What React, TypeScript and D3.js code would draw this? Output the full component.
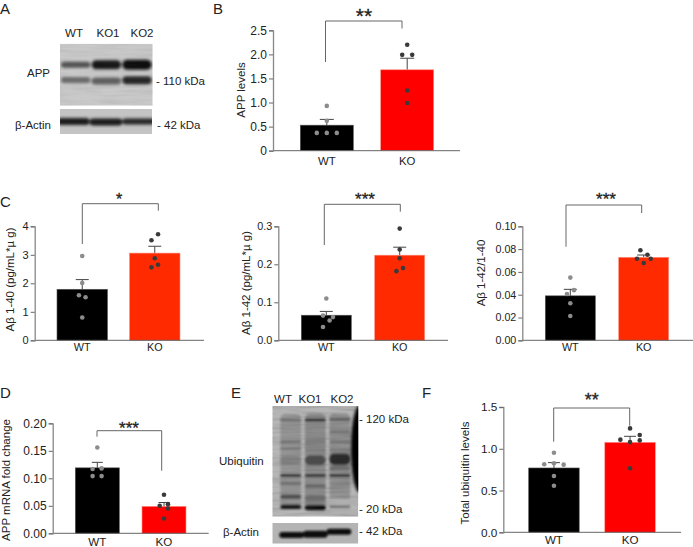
import React, { useEffect, useRef } from 'react';
import * as d3 from 'd3';

const FONT = '"Liberation Sans", Arial, sans-serif';
const groups = ['WT', 'KO'];

// panel B
const appMeans = [0.53, 1.68];
const appErrors = [0.65, 1.92];
const appWt = [0.93, 0.62, 0.37, 0.37, 0.37];
const appKo = [2.2, 1.99, 1.99, 1.25, 0.99];
const appWtJitter = [0, 0, -10, 0, 10];
const appKoJitter = [0, -5, 5, 0, 0];

// panel C
const ab40Means = [1.79, 3.06];
const ab40Errors = [2.13, 3.3];
const ab40Wt = [2.96, 2.01, 1.58, 1.51, 0.8];
const ab40Ko = [3.72, 3.51, 2.88, 2.65, 2.56];
const ab40WtJitter = [0, 0, -3.3, 3.3, 0];
const ab40KoJitter = [3.3, -3.3, 0, 3.3, -3.3];

const ab42Means = [0.066, 0.224];
const ab42Errors = [0.076, 0.245];
const ab42Wt = [0.11, 0.065, 0.061, 0.052, 0.035];
const ab42Ko = [0.294, 0.239, 0.216, 0.19, 0.182];
const ab42WtJitter = [0, -3.3, 6.7, 3.3, -3.3];
const ab42KoJitter = [0, 0, 0, 3.3, -3.3];

const ratioMeans = [0.039, 0.0728];
const ratioErrors = [0.0447, 0.0748];
const ratioWt = [0.055, 0.044, 0.0406, 0.0325, 0.0213];
const ratioKo = [0.079, 0.075, 0.0716, 0.0716, 0.0678];
const ratioWtJitter = [0, 3.7, -3.3, 0, 0];
const ratioKoJitter = [-3.3, 3.7, -6.7, 7, 0];

// panel D
const mrnaMeans = [0.119, 0.049];
const mrnaErrors = [0.129, 0.056];
const mrnaWt = [0.156, 0.118, 0.117, 0.104, 0.104];
const mrnaKo = [0.07, 0.053, 0.05, 0.045, 0.027];
const mrnaWtJitter = [0, 4.3, -4.7, -4.7, 4.3];
const mrnaKoJitter = [0, 4, -4.3, 4, 0];

// panel F
const ubqMeans = [0.77, 1.077];
const ubqErrors = [0.834, 1.149];
const ubqWt = [0.953, 0.826, 0.814, 0.81, 0.674, 0.558];
const ubqKo = [1.244, 1.165, 1.109, 1.1, 1.08, 0.766];
const ubqWtJitter = [0, 0, -9.7, 9.7, 0, 0];
const ubqKoJitter = [0, 9.7, -9.7, 9.7, 0, 0];

// blot bands: [lane, relative position down the gel, darkness, thickness px]
const appBands = [
  [0, 0.34, 0.62, 6], [1, 0.34, 0.92, 9], [2, 0.34, 1, 10],
  [0, 0.585, 0.5, 6], [1, 0.6, 0.55, 7], [2, 0.59, 0.85, 8],
];
const actinBands = [[0, 0.5, 0.9, 7], [1, 0.52, 0.9, 7], [2, 0.5, 0.85, 6]];
const ubqBands = [
  // lane smears first, the sharper bands go on top of them
  [0, 0.5, 0.2, 95], [1, 0.5, 0.25, 95], [2, 0.45, 0.22, 85],
  [0, 0.127, 0.42, 2.5], [0, 0.322, 0.42, 2.5], [0, 0.383, 0.36, 2.5], [0, 0.49, 0.3, 8], [0, 0.627, 0.95, 2.5], [0, 0.699, 0.42, 3], [0, 0.82, 0.6, 4.5], [0, 0.91, 0.95, 4.5],
  [1, 0.127, 0.98, 2.5], [1, 0.322, 0.38, 2.5], [1, 0.398, 0.35, 2.5], [1, 0.49, 0.62, 10], [1, 0.627, 0.9, 2.5], [1, 0.723, 0.5, 3], [1, 0.834, 0.42, 6], [1, 0.916, 1, 5.5],
  [2, 0.12, 0.55, 2.5], [2, 0.232, 0.42, 2.5], [2, 0.322, 0.42, 2.5], [2, 0.398, 0.36, 2.5], [2, 0.48, 0.8, 12], [2, 0.563, 0.45, 4], [2, 0.627, 0.95, 2.5], [2, 0.705, 0.28, 3], [2, 0.82, 0.2, 4], [2, 0.91, 0.42, 2.5],
];
const ubqActinBands = [[0, 0.58, 1, 6], [1, 0.54, 1, 7], [2, 0.42, 1, 6]];

const laneLabels = ['WT', 'KO1', 'KO2'];

const ticksB = [0, 0.5, 1, 1.5, 2, 2.5];
const ticksC1 = [0, 1, 2, 3, 4];
const ticksC2 = [0, 0.1, 0.2, 0.3];
const ticksC3 = [0, 0.02, 0.04, 0.06, 0.08, 0.1];
const ticksD = [0, 0.05, 0.1, 0.15, 0.2];
const ticksF = [0, 0.5, 1, 1.5];

const fmtB = (d: number) => (d === 0 ? '0' : d3.format('.1f')(d));

const charts: any[] = [
  {
    means: appMeans, errors: appErrors, wt: appWt, ko: appKo, wtJ: appWtJitter, koJ: appKoJitter,
    ticks: ticksB, fmt: fmtB, label: 'APP levels', stars: '**', red: '#ff0000',
    axisX: 273, axisEnd: 460, y0: 150.7, y1: 30.3, bars: [300.3, 433.7], barW: 53, capW: 14,
    tickFs: 12, xFs: 11.4, xY: 165, labelX: 242, labelY: 90,
    bracket: [325.5, 402, 21, 62, 28.5], starX: 364, starY: 23, starFs: 21,
  },
  {
    means: ab40Means, errors: ab40Errors, wt: ab40Wt, ko: ab40Ko, wtJ: ab40WtJitter, koJ: ab40KoJitter,
    ticks: ticksC1, fmt: d3.format('d'), label: 'Aβ 1-40 (pg/mL*µ g)', stars: '*', red: '#ff2a00',
    axisX: 34.7, axisEnd: 204, y0: 340.3, y1: 226.3, bars: [57, 180], barW: 50.5, capW: 13,
    tickFs: 11, xFs: 10.8, xY: 351, labelX: 11, labelY: 279.5,
    bracket: [82.3, 158.3, 203.7, 244, 210.7], starX: 119, starY: 205, starFs: 16,
  },
  {
    means: ab42Means, errors: ab42Errors, wt: ab42Wt, ko: ab42Ko, wtJ: ab42WtJitter, koJ: ab42KoJitter,
    ticks: ticksC2, fmt: d3.format('.1f'), label: 'Aβ 1-42 (pg/mL*µ g)', stars: '***', red: '#ff2a00',
    axisX: 278.3, axisEnd: 448, y0: 340.3, y1: 226.3, bars: [301.3, 424.7], barW: 50, capW: 13,
    tickFs: 10.8, xFs: 10.8, xY: 351, labelX: 247, labelY: 283,
    bracket: [324.3, 400.3, 204.3, 245, 211.7], starX: 365, starY: 205, starFs: 17,
  },
  {
    means: ratioMeans, errors: ratioErrors, wt: ratioWt, ko: ratioKo, wtJ: ratioWtJitter, koJ: ratioKoJitter,
    ticks: ticksC3, fmt: d3.format('.2f'), label: 'Aβ 1-42/1-40', stars: '***', red: '#ff2a00',
    axisX: 522.3, axisEnd: 693, y0: 340.3, y1: 226.3, bars: [545.3, 668.7], barW: 50, capW: 13,
    tickFs: 10.7, xFs: 10.8, xY: 351, labelX: 482, labelY: 273,
    bracket: [566, 641.7, 205, 246.7, 213], starX: 606, starY: 205, starFs: 17,
  },
  {
    means: mrnaMeans, errors: mrnaErrors, wt: mrnaWt, ko: mrnaKo, wtJ: mrnaWtJitter, koJ: mrnaKoJitter,
    ticks: ticksD, fmt: d3.format('.2f'), label: 'APP mRNA fold change', stars: '***', red: '#ff0000',
    axisX: 52.7, axisEnd: 208.7, y0: 533.3, y1: 423.3, bars: [75.3, 186], barW: 44, capW: 11,
    tickFs: 12, xFs: 11.6, xY: 546, labelX: 7, labelY: 480,
    bracket: [97, 161.7, 430.7, 436.7, 470.7], starX: 129, starY: 434, starFs: 17,
  },
  {
    means: ubqMeans, errors: ubqErrors, wt: ubqWt, ko: ubqKo, wtJ: ubqWtJitter, koJ: ubqKoJitter,
    ticks: ticksF, fmt: d3.format('.1f'), label: 'Total ubiquitin levels', stars: '**', red: '#ff0000',
    axisX: 503.3, axisEnd: 681, y0: 532.3, y1: 407, bars: [528.7, 655.3], barW: 50.5, capW: 12,
    tickFs: 11.8, xFs: 11.6, xY: 544, labelX: 466, labelY: 473,
    bracket: [553.7, 629.7, 408, 441.7, 425.7], starX: 591.7, starY: 406, starFs: 18,
  },
];

const BarPanel = ({ c }: { c: any }) => {
  const axisRef = useRef<SVGGElement | null>(null);

  const y = d3.scaleLinear().domain([c.ticks[0], c.ticks[c.ticks.length - 1]]).range([c.y0, c.y1]);
  const gap = c.bars[1] - c.bars[0] - 2 * c.barW;
  const x = d3.scaleBand<string>().domain(groups).range(c.bars)
    .paddingInner(gap / (c.barW + gap)).paddingOuter(0);

  useEffect(() => {
    if (!axisRef.current) return;
    const g = d3.select(axisRef.current);
    g.selectAll('*').remove();
    g.call(d3.axisLeft(y).tickValues(c.ticks).tickFormat(c.fmt).tickSize(4).tickPadding(2) as any);
    g.selectAll('.domain').attr('stroke', '#888').attr('stroke-width', 1.3);
    g.selectAll('.tick line').attr('stroke', '#666');
    g.selectAll('text').attr('fill', '#222').style('font-size', `${c.tickFs}px`).style('font-family', FONT);
  }, []);

  const series = [
    { name: 'WT', vals: c.wt, jit: c.wtJ, fill: '#8c8c8c' },
    { name: 'KO', vals: c.ko, jit: c.koJ, fill: '#3a3a3a' },
  ];
  const [bx1, bx2, bTop, bLeft, bRight] = c.bracket;

  return (
    <g>
      {groups.map((g, i) => {
        const cx = x(g)! + x.bandwidth() / 2;
        return (
          <g key={g}>
            <line x1={cx} x2={cx} y1={y(c.means[i])} y2={y(c.errors[i])} stroke="#444" strokeWidth={1} />
            <line x1={cx - c.capW / 2} x2={cx + c.capW / 2} y1={y(c.errors[i])} y2={y(c.errors[i])} stroke="#444" strokeWidth={1} />
            <rect x={x(g)} y={y(c.means[i])} width={x.bandwidth()} height={c.y0 - y(c.means[i])}
              fill={i === 0 ? '#000' : c.red} stroke={i === 0 ? '#555' : '#ff8f80'} strokeWidth={0.6} />
            <text x={cx} y={c.xY} textAnchor="middle" fontSize={c.xFs} fill="#222">{g}</text>
          </g>
        );
      })}
      <line x1={c.axisX} x2={c.axisEnd} y1={c.y0} y2={c.y0} stroke="#666" strokeWidth={1} />
      <g ref={axisRef} transform={`translate(${c.axisX},0)`} />
      {series.map((s) => (
        <g key={s.name}>
          {s.vals.map((v: number, i: number) => (
            <circle key={i} cx={x(s.name)! + x.bandwidth() / 2 + s.jit[i]} cy={y(v)} r={2.3} fill={s.fill} />
          ))}
        </g>
      ))}
      <path d={`M${bx1},${bLeft}V${bTop}H${bx2}V${bRight}`} fill="none" stroke="#666" strokeWidth={1} />
      <text x={c.starX} y={c.starY} textAnchor="middle" fontSize={c.starFs} fill="#222" stroke="#222" strokeWidth={0.3}>{c.stars}</text>
      <text transform={`translate(${c.labelX},${c.labelY}) rotate(-90)`} textAnchor="middle" dominantBaseline="middle"
        fontSize={11.5} fill="#222">{c.label}</text>
    </g>
  );
};

const Blot = ({ x0, x1, y0, y1, bands, bg, laneInset = 0, bandInner = 0.1, clip, blur = 'blotBlur', noise = 0 }: any) => {
  const lane = d3.scaleBand<number>().domain([0, 1, 2]).range([x0 + laneInset, x1 - laneInset]).paddingInner(bandInner);
  const pos = d3.scaleLinear().domain([0, 1]).range([y0, y1]);
  const ink = d3.scaleLinear<string>().domain([0, 1]).range([bg, '#0a0a0a']);
  return (
    <g clipPath={`url(#${clip})`}>
      <rect x={x0} y={y0} width={x1 - x0} height={y1 - y0} fill={bg} />
      <g filter={`url(#${blur})`}>
        {bands.map((b: number[], i: number) => (
          <rect key={i} x={lane(b[0])} y={pos(b[1]) - b[3] / 2} width={lane.bandwidth()} height={b[3]} rx={Math.min(b[3] / 2, 5)} fill={ink(b[2])} />
        ))}
      </g>
      {noise > 0 && <rect x={x0} y={y0} width={x1 - x0} height={y1 - y0} filter="url(#gelNoise)" opacity={noise} />}
    </g>
  );
};

const T = ({ x, y, s, fs = 11.5, anchor = 'start' }: any) => (
  <text x={x} y={y} fontSize={fs} fill="#222" textAnchor={anchor}>{s}</text>
);

const App = () => {
  return (
    <svg width={693} height={547} viewBox="0 0 693 547"
      style={{ position: 'absolute', left: 0, top: 0, display: 'block', background: '#fff', fontFamily: FONT }}>
      <defs>
        <filter id="blotBlur" x="-10%" y="-30%" width="120%" height="160%">
          <feGaussianBlur stdDeviation="0.9" />
        </filter>
        <filter id="blotBlurWide" x="-10%" y="-30%" width="120%" height="160%">
          <feGaussianBlur stdDeviation="1.7" />
        </filter>
        <filter id="smearBlur" x="-50%" y="-20%" width="200%" height="140%">
          <feGaussianBlur stdDeviation="1.5" />
        </filter>
        <filter id="gelNoise" x="0" y="0" width="100%" height="100%">
          <feTurbulence type="fractalNoise" baseFrequency="0.03 0.3" numOctaves="2" seed="4" />
          <feColorMatrix values="0 0 0 0 0.1  0 0 0 0 0.1  0 0 0 0 0.1  1.6 0 0 0 -0.6" />
        </filter>
        <clipPath id="gelA1"><rect x={60} y={43.7} width={92.7} height={62} /></clipPath>
        <clipPath id="gelA2"><rect x={60} y={109} width={92} height={25} /></clipPath>
        <clipPath id="gelE1"><rect x={272.3} y={406} width={86} height={110.7} /></clipPath>
        <clipPath id="gelE2"><rect x={272.3} y={523} width={86} height={20.7} /></clipPath>
      </defs>

      {/* panel letters */}
      <T x={0} y={13.5} s="A" fs={15} />
      <T x={213} y={13.5} s="B" fs={15} />
      <T x={0} y={207} s="C" fs={15} />
      <T x={0} y={398} s="D" fs={15} />
      <T x={231} y={398} s="E" fs={15} />
      <T x={422} y={398} s="F" fs={15} />

      {/* blot A */}
      <Blot x0={60} x1={152.7} y0={43.7} y1={105.7} bands={appBands} bg="#c9c9c9" laneInset={1} bandInner={0.04} clip="gelA1" blur="blotBlurWide" noise={0.12} />
      <Blot x0={60} x1={152} y0={109} y1={134} bands={actinBands} bg="#c4c4c4" bandInner={0} laneInset={-3} clip="gelA2" blur="blotBlurWide" />
      {laneLabels.map((s, i) => (
        <T key={s} x={[74, 108, 142][i]} y={37} s={s} fs={11.5} anchor="middle" />
      ))}
      <T x={27} y={77} s="APP" />
      <T x={15} y={129} s="β-Actin" />
      <T x={156} y={85} s="- 110 kDa" />
      <T x={157} y={129} s="- 42 kDa" />

      {/* blot E */}
      <Blot x0={272.3} x1={358.3} y0={406} y1={516.7} bands={ubqBands} bg="#b6b6b6" laneInset={8} bandInner={0.15} clip="gelE1" noise={0.3} />
      <g clipPath="url(#gelE1)">
        <ellipse cx={360} cy={449} rx={9} ry={44} fill="#060606" filter="url(#smearBlur)" />
      </g>
      <Blot x0={272.3} x1={358.3} y0={523} y1={543.7} bands={ubqActinBands} bg="#b4b4b4" laneInset={7} bandInner={-0.05} clip="gelE2" />
      {laneLabels.map((s, i) => (
        <T key={s} x={[283, 310, 342][i]} y={403} s={s} fs={11.5} anchor="middle" />
      ))}
      <T x={219} y={465} s="Ubiquitin" />
      <T x={223} y={536} s="β-Actin" />
      <T x={359} y={423} s="- 120 kDa" />
      <T x={359} y={513} s="- 20 kDa" />
      <T x={359} y={535} s="- 42 kDa" />

      {charts.map((c, i) => <BarPanel key={i} c={c} />)}
    </svg>
  );
};

export default App;
